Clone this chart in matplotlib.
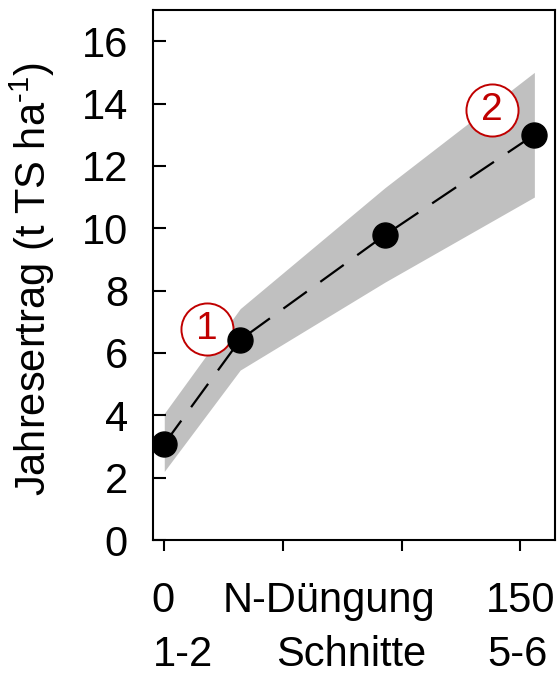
import numpy as np
import matplotlib
matplotlib.use("Agg")
import matplotlib.pyplot as plt

plt.rcParams['font.family'] = ['Liberation Sans', 'DejaVu Sans']
plt.rcParams['mathtext.fontset'] = 'custom'
plt.rcParams['mathtext.rm'] = 'Liberation Sans'
plt.rcParams['mathtext.it'] = 'Liberation Sans'
plt.rcParams['mathtext.default'] = 'regular'

# N-Düngung (kg N/ha) und Jahresertrag (t TS/ha)
n_dose = [0, 32, 93, 156]
ertrag = [3.08, 6.42, 9.78, 13.0]
ertrag_hi = [4.06, 7.42, 11.3, 15.0]
ertrag_lo = [2.2, 5.45, 8.27, 11.0]

# markierte Stufen
stufe_x = [18, 138]
stufe_y = [6.78, 13.8]
stufe_lbl = ['1', '2']

yticks = [0, 2, 4, 6, 8, 10, 12, 14, 16]
xticks = [0, 50, 100, 150]

red = '#c00000'

fig = plt.figure(figsize=(5.59, 6.74), dpi=100)
ax = fig.add_axes([153/559, 1 - 540/674, (555 - 153)/559, (540 - 10)/674])

ax.fill_between(n_dose, ertrag_lo, ertrag_hi, color='#c0c0c0', lw=0, zorder=1)
ax.plot(n_dose, ertrag, color='black', lw=1.6, dashes=(13, 7.5), zorder=2)
ax.plot(stufe_x, stufe_y, 'o', ms=37.5, mfc='white', mec=red, mew=1.4, ls='none', zorder=3)
for x, y, t in zip(stufe_x, stufe_y, stufe_lbl):
    ax.text(x, y, t, color=red, fontsize=28, ha='center', va='center', zorder=4)
ax.plot(n_dose, ertrag, 'o', color='black', ms=18, ls='none', zorder=5)

ax.set_xlim(-4.75, 164.7)
ax.set_ylim(0, 17)
ax.set_yticks(yticks)
ax.set_xticks(xticks)
ax.set_xticklabels([])
ax.tick_params(axis='y', direction='in', length=9, width=1.5, labelsize=30, pad=18)
ax.tick_params(axis='x', direction='out', length=8, width=1.5)
for s in ax.spines.values():
    s.set_linewidth(1.5)

fig.text(0.057, 1 - 279/674, 'Jahresertrag (t TS ha$^{\\text{-1}}$)', rotation=90,
         ha='center', va='center', fontsize=30)

row1 = [(163, '0'), (329, 'N-Düngung'), (521, '150')]
row2 = [(183.5, '1-2'), (351.5, 'Schnitte'), (517.5, '5-6')]
for x, t in row1:
    fig.text(x/559, 1 - 611.7/674, t, ha='center', va='baseline', fontsize=30)
for x, t in row2:
    fig.text(x/559, 1 - 666/674, t, ha='center', va='baseline', fontsize=30)

fig.savefig('out.png', dpi=100)
